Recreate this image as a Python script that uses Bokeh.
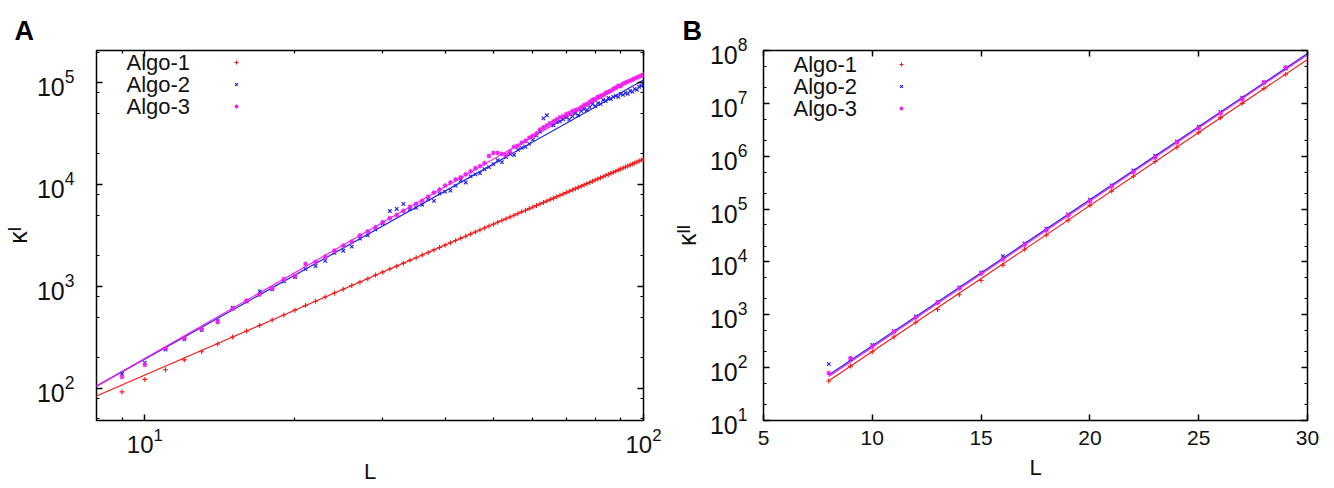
import numpy as np
from bokeh.plotting import figure
from bokeh.layouts import row
from bokeh.models import (FixedTicker, LogAxis, LinearAxis, LogTickFormatter,
                          Legend, LegendItem, Label, CustomJSTickFormatter)
from bokeh.core.properties import value
from bokeh.embed import file_html
from bokeh.resources import INLINE

# ---------------- data ----------------
series_names = ["Algo-1", "Algo-2", "Algo-3"]
series_colors = ["#f01c1c", "#2222e6", "#ee22ee"]
series_markers = ["cross", "x", "asterisk"]

# Panel A : kappa^I versus L (log-log)
L_A = list(range(9, 101))
kappaI_algo1 = [92, 122, 152, 190, 228, 272,
                318, 364, 414, 467, 524, 584, 648, 715, 786, 860,
                938, 1020, 1100, 1190, 1290, 1380, 1480, 1580, 1690, 1800,
                1910, 2030, 2150, 2280, 2410, 2540, 2680, 2820, 2960, 3110,
                3260, 3420, 3580, 3740, 3910, 4080, 4260, 4430, 4620, 4800,
                5000, 5190, 5390, 5590, 5800, 6010, 6220, 6440, 6660, 6890,
                7120, 7350, 7590, 7830, 8080, 8330, 8590, 8840, 9110, 9370,
                9640, 9920, 10200, 10480, 10760, 11060, 11350, 11650, 11950, 12260,
                12570, 12880, 13200, 13530, 13860, 14190, 14520, 14870, 15210, 15560,
                15910, 16280, 16630, 17000, 17370, 17740]
kappaI_algo2 = [138, 178, 240, 302, 372, 457,
                617, 708, 891, 933, 1122, 1230, 1479, 1585, 1778, 2138,
                2239, 2455, 2951, 3162, 3631, 4169, 5495, 5754, 6457, 5754,
                5888, 6310, 7244, 6918, 8128, 8511, 8710, 9772, 10960, 10470,
                12020, 12590, 12880, 14130, 14790, 15850, 17380, 16600, 18620, 19950,
                19500, 21880, 22910, 23440, 25120, 27540, 30200, 33110, 44670, 47860,
                39810, 38020, 40740, 41690, 43650, 45710, 43650, 46770, 50120, 47860,
                52480, 54950, 53700, 57540, 61660, 58880, 63100, 61660, 67610, 66070,
                70790, 69180, 72440, 74130, 72440, 77620, 75860, 79430, 77620, 83180,
                81280, 87100, 85110, 91200, 93330, 95500]
kappaI_algo3 = [129, 170, 245, 309, 380, 447,
                603, 724, 832, 955, 1175, 1259, 1660, 1738, 1950, 2239,
                2512, 2754, 3162, 3467, 3802, 4266, 4677, 5012, 5495, 6026,
                6457, 6918, 7586, 8318, 8913, 9772, 10470, 11220, 11750, 12590,
                13490, 14450, 15140, 16220, 19050, 20420, 20420, 19950, 19500, 20890,
                23440, 23990, 25700, 26920, 28840, 30200, 31620, 34670, 36310, 38020,
                39810, 41690, 43650, 45710, 46770, 48980, 50120, 52480, 53700, 54950,
                57540, 60260, 61660, 64570, 67610, 69180, 72440, 74130, 75860, 79430,
                81280, 83180, 87100, 89130, 93330, 93330, 97720, 100000, 102300, 104700,
                107200, 109600, 112200, 114800, 117500, 120200]
# power-law fits: kappa = 10**c * L**e
fitA_log10_prefactor = [0.009, -0.454, -0.508]
fitA_exponent = [2.12, 2.74, 2.80]
fitA_L_range = [8, 100]

# Panel B : kappa^II versus L (semi-log)
L_B = list(range(8, 30))
kappaII_algo1 = [56, 107, 200, 380, 724, 1259, 2399, 4467, 8710, 17380, 32360,
                 61660, 117500, 218800, 417000, 794300, 1479000, 2818000, 5370000,
                 10000000, 19050000, 35480000]
kappaII_algo2 = [117, 145, 269, 490, 933, 1738, 3311, 6310, 12850, 22390, 42660,
                 79430, 151400, 281800, 537000, 1023000, 1905000, 3631000, 6918000,
                 12880000, 24550000, 45710000]
kappaII_algo3 = [79, 151, 251, 479, 891, 1698, 3162, 6026, 11220, 21380, 39810,
                 75860, 141300, 269200, 501200, 955000, 1820000, 3388000, 6457000,
                 12020000, 25100000, 47860000]
# exponential fits: log10(kappa) = a + b*L
fitB_intercept = [-0.461, -0.351, -0.384]
fitB_slope = [0.2764, 0.2764, 0.2768]
fitB_L_range = [8, 30]

FONT = "Liberation Sans"
H = 486


def style_axis(ax, size="21px", standoff=10):
    ax.major_label_text_font = FONT
    ax.major_label_text_font_size = size
    ax.major_label_text_color = "#111111"
    ax.major_label_standoff = standoff
    ax.axis_label_text_font = FONT
    ax.axis_label_text_font_size = "22px"
    ax.axis_label_text_font_style = "normal"
    ax.axis_label_text_color = "#111111"
    ax.major_tick_in = 6
    ax.major_tick_out = 0
    ax.minor_tick_in = 3
    ax.minor_tick_out = 0
    ax.major_tick_line_color = "black"
    ax.minor_tick_line_color = "black"
    ax.major_tick_line_width = 1.5
    ax.minor_tick_line_width = 1.2
    ax.axis_line_color = None


def mirror_axis(cls, ticker):
    ax = cls(ticker=ticker, formatter=CustomJSTickFormatter(code="return ''"))
    style_axis(ax, size="1px", standoff=0)
    return ax


def base_figure(width, borders, letter, letter_offset, **kw):
    p = figure(width=width, height=H, output_backend="svg", toolbar_location=None,
               min_border_left=borders[0], min_border_right=borders[1],
               min_border_top=borders[2], min_border_bottom=borders[3], **kw)
    p.outline_line_color = "black"
    p.outline_line_width = 1.5
    p.outline_line_alpha = 1.0
    p.xgrid.visible = False
    p.ygrid.visible = False
    p.background_fill_color = "white"
    p.border_fill_color = "white"
    p.title.text = letter
    p.title.align = "left"
    p.title.offset = letter_offset
    p.title.text_font = FONT
    p.title.text_font_size = "27px"
    p.title.text_font_style = "bold"
    p.title.text_color = "black"
    p.title.standoff = 10
    return p


def add_legend(p, frame_h, text_x, first_row_from_top, glyph_x, renderers):
    pitch = 22
    for i, name in enumerate(series_names):
        p.add_layout(Label(x=text_x, y=frame_h - first_row_from_top - i * pitch,
                           x_units="screen", y_units="screen", text=name,
                           text_font=FONT, text_font_size="22px",
                           text_color="#111111", text_baseline="middle"))
    top = first_row_from_top - pitch / 2
    leg = Legend(items=[LegendItem(label=value(" "), renderers=[r]) for r in renderers],
                 location=(glyph_x - 5, frame_h - top - 3 * pitch),
                 glyph_width=10, glyph_height=10, label_height=pitch, label_width=0,
                 label_standoff=0, label_text_font_size="1px", spacing=0,
                 padding=0, margin=0, background_fill_alpha=0, border_line_alpha=0)
    p.add_layout(leg)


# ---------------- Panel A ----------------
FA_H = 378
pA = base_figure(663, (92, 20, 47, H - 425), "A", -82,
                 x_axis_type="log", y_axis_type="log",
                 x_range=(8, 100), y_range=(48.2, 2.07e5))
xtA = FixedTicker(ticks=[10, 100], minor_ticks=[9, 20, 30, 40, 50, 60, 70, 80, 90])
ytA = FixedTicker(ticks=[1e2, 1e3, 1e4, 1e5],
                  minor_ticks=[50, 80, 200, 500, 800, 2000, 5000, 8000,
                               20000, 50000, 80000, 200000])
pA.xaxis.ticker = xtA
pA.yaxis.ticker = ytA
pA.xaxis.formatter = LogTickFormatter()
pA.yaxis.formatter = LogTickFormatter()
pA.xaxis.axis_label = "L"
pA.yaxis.axis_label = "\u03ba\u1d35"
for ax in pA.xaxis:
    style_axis(ax, size="24px", standoff=7)
    ax.axis_label_standoff = 3
for ax in pA.yaxis:
    style_axis(ax, size="25px", standoff=22)
    ax.axis_label_standoff = 2
    ax.axis_label_text_font_size = "25px"
pA.add_layout(mirror_axis(LogAxis, xtA), "above")
pA.add_layout(mirror_axis(LogAxis, ytA), "right")

seriesA = [kappaI_algo1, kappaI_algo2, kappaI_algo3]
for c, e, col in zip(fitA_log10_prefactor, fitA_exponent, series_colors):
    xs = np.array(fitA_L_range, dtype=float)
    pA.line(xs, 10 ** c * xs ** e, line_color=col, line_width=1.2)
rendA = []
for ys, col, mk in zip(seriesA, series_colors, series_markers):
    rendA.append(pA.scatter(L_A, ys, marker=mk, size=5, line_color=col,
                            fill_color=col, line_width=1.1))
add_legend(pA, FA_H, 30, 20, 140, rendA)

# ---------------- Panel B ----------------
FB_H = 373
pB = base_figure(671, (100, 27, 50, H - 423), "B", -81,
                 y_axis_type="log", x_range=(5, 30), y_range=(10, 1e8))
xtB = FixedTicker(ticks=[5, 10, 15, 20, 25, 30], minor_ticks=[])
ytB = FixedTicker(ticks=[10 ** k for k in range(1, 9)],
                  minor_ticks=[m * 10 ** k for k in range(1, 8) for m in (2, 5)])
pB.xaxis.ticker = xtB
pB.yaxis.ticker = ytB
pB.yaxis.formatter = LogTickFormatter()
pB.xaxis.axis_label = "L"
pB.yaxis.axis_label = "\u03ba\u1d35\u1d35"
for ax in pB.xaxis:
    style_axis(ax, size="21px", standoff=10)
    ax.axis_label_standoff = 7
for ax in pB.yaxis:
    style_axis(ax, size="25px", standoff=16)
    ax.axis_label_standoff = 6
    ax.axis_label_text_font_size = "25px"
pB.add_layout(mirror_axis(LinearAxis, xtB), "above")
pB.add_layout(mirror_axis(LogAxis, ytB), "right")

seriesB = [kappaII_algo1, kappaII_algo2, kappaII_algo3]
for a, b, col in zip(fitB_intercept, fitB_slope, series_colors):
    xs = np.array(fitB_L_range, dtype=float)
    pB.line(xs, 10 ** (a + b * xs), line_color=col, line_width=1.2)
rendB = []
for ys, col, mk in zip(seriesB, series_colors, series_markers):
    rendB.append(pB.scatter(L_B, ys, marker=mk, size=5, line_color=col,
                            fill_color=col, line_width=1.1))
add_legend(pB, FB_H, 30, 17, 138, rendB)

layout = row(pA, pB)
open("out.html", "w").write(file_html(layout, INLINE, title="kappa vs L"))
